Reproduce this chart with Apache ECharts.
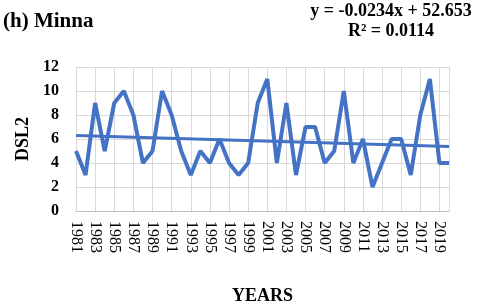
<!DOCTYPE html>
<html>
<head>
<meta charset="utf-8">
<script src="https://cdn.jsdelivr.net/npm/echarts@6/dist/echarts.min.js"></script>
<style>html,body{margin:0;padding:0;background:#fff}#c{width:480px;height:306px}</style>
</head>
<body>
<div id="c"></div>
<script>
const years = ['1981','1982','1983','1984','1985','1986','1987','1988','1989','1990',
  '1991','1992','1993','1994','1995','1996','1997','1998','1999','2000',
  '2001','2002','2003','2004','2005','2006','2007','2008','2009','2010',
  '2011','2012','2013','2014','2015','2016','2017','2018','2019','2020'];
const dsl2 = [5,3,9,5,9,10,8,4,5,10,
  8,5,3,5,4,6,4,3,4,9,
  11,4,9,3,7,7,4,5,10,4,
  6,2,4,6,6,3,8,11,4,4];
const trendSlope = -0.0234;
const trendIntercept = 52.653;
const rSquared = '0.0114';
const trendData = years.map((y, i) => (i === 0 || i === years.length - 1) ? +(trendSlope * Number(y) + trendIntercept).toFixed(3) : null);

const serif = '"Liberation Serif", "Times New Roman", serif';
const chart = echarts.init(document.getElementById('c'), null, {renderer: 'canvas'});
chart.setOption({
  animation: false,
  backgroundColor: '#fff',
  grid: {left: 76, right: 31, top: 67, bottom: 94, containLabel: false},
  graphic: [
    {type: 'text', x: 3, y: 11, style: {text: '(h) Minna', font: 'bold 21px ' + serif, fill: '#000'}},
    {type: 'text', x: 391, y: 2, style: {text: 'y = -0.0234x + 52.653', font: 'bold 18px ' + serif, fill: '#000', textAlign: 'center'}},
    {type: 'text', x: 391, y: 22, style: {text: 'R² = ' + rSquared, font: 'bold 18px ' + serif, fill: '#000', textAlign: 'center'}}
  ],
  xAxis: {
    type: 'category',
    data: years,
    boundaryGap: false,
    name: 'YEARS',
    nameLocation: 'middle',
    nameGap: 76,
    nameTextStyle: {fontFamily: serif, fontWeight: 'bold', fontSize: 18, color: '#000'},
    axisLine: {show: true, lineStyle: {color: '#bfbfbf', width: 1}},
    axisTick: {show: false},
    axisLabel: {interval: 1, rotate: -90, margin: 10, fontFamily: serif, fontSize: 16, color: '#000'},
    splitLine: {show: true, interval: function (i) { return i % 2 === 0 || i === 39; }, lineStyle: {color: '#d9d9d9', width: 1}}
  },
  yAxis: {
    type: 'value',
    min: 0, max: 12, interval: 2,
    name: 'DSL2',
    nameLocation: 'middle',
    nameGap: 42,
    nameTextStyle: {fontFamily: serif, fontWeight: 'bold', fontSize: 18, color: '#000'},
    axisLine: {show: false},
    axisTick: {show: false},
    axisLabel: {margin: 17, fontFamily: serif, fontWeight: 'bold', fontSize: 16, color: '#000'},
    splitLine: {show: true, lineStyle: {color: '#d9d9d9', width: 1}}
  },
  series: [
    {type: 'line', data: dsl2, symbol: 'none', lineStyle: {color: '#4472C4', width: 4}, z: 3},
    {type: 'line', data: trendData, connectNulls: true, symbol: 'none', lineStyle: {color: '#4472C4', width: 3}, z: 2}
  ]
});
</script>
</body>
</html>
